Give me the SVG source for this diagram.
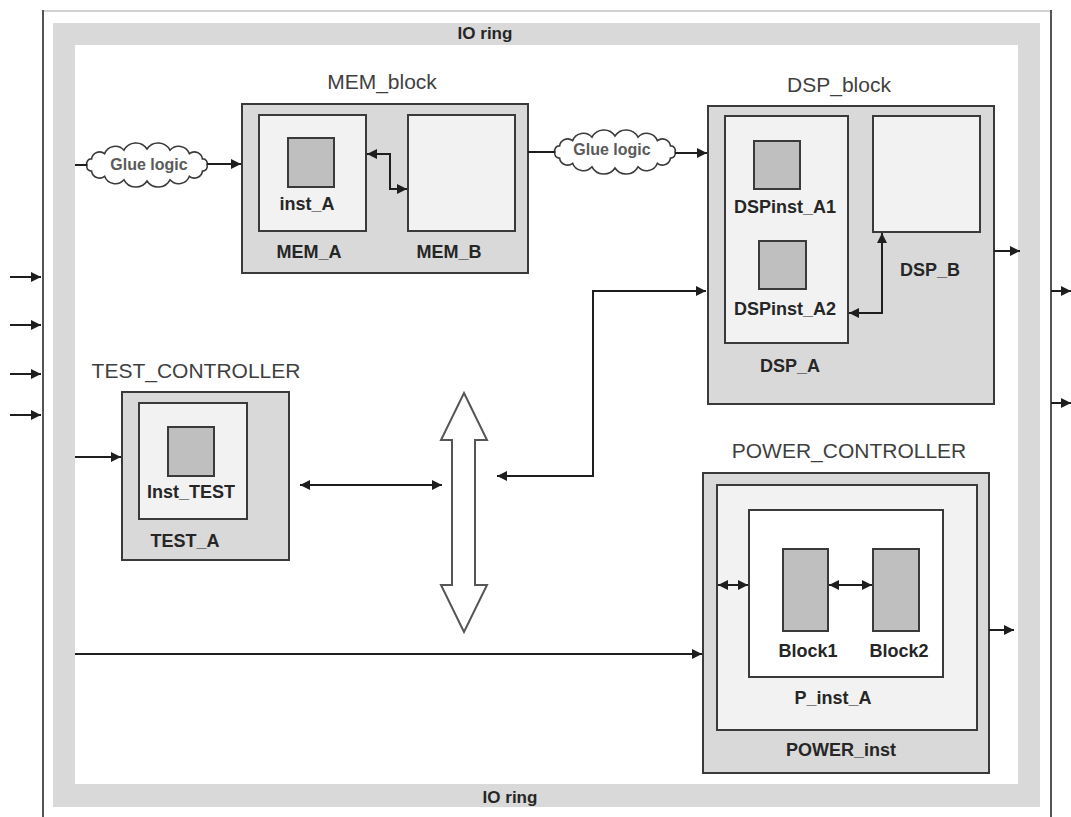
<svg xmlns="http://www.w3.org/2000/svg" xmlns:xlink="http://www.w3.org/1999/xlink" width="1071" height="817" viewBox="0 0 1071 817">
  <style>
    .box { stroke: #3a3a3a; stroke-width: 2; }
    .outer { fill: #d9d9d9; }
    .inner { fill: #f2f2f2; }
    .white { fill: #ffffff; }
    .cell { fill: #bfbfbf; }
    .title { font-family: "Liberation Sans", Arial, sans-serif; font-size: 21px; fill: #3f3f3f; text-anchor: middle; }
    .label { font-family: "Liberation Sans", Arial, sans-serif; font-size: 18px; font-weight: bold; fill: #262626; text-anchor: middle; }
    .ring { font-family: "Liberation Sans", Arial, sans-serif; font-size: 17px; font-weight: bold; fill: #262626; text-anchor: middle; }
    .glue { font-family: "Liberation Sans", Arial, sans-serif; font-size: 16px; font-weight: bold; fill: #5a5a5a; text-anchor: middle; }
    .wire { fill: none; stroke: #1e1e1e; stroke-width: 2; }
    .arr { marker-end: url(#head); }
    .both { marker-start: url(#head); marker-end: url(#head); }
    .cloud { fill: #ffffff; stroke: #3a3a3a; stroke-width: 1.6; }
  </style>
  <defs>
    <marker id="head" viewBox="0 0 10 10" refX="10" refY="5" markerWidth="12" markerHeight="10" markerUnits="userSpaceOnUse" orient="auto-start-reverse">
      <path d="M0,0 L10,5 L0,10 z" fill="#1e1e1e"/>
    </marker>
    <!-- scalloped cloud outline centred on 0,0 -->
    <path id="cloud" class="cloud" d="M-60,0 A4.5,4.5 0 0 1 -55.4,-6.1 A8,8 0 0 1 -42.4,-11.3 A11.5,11.5 0 0 1 -23,-14.8 A13.3,13.3 0 0 1 0,-16 A13.3,13.3 0 0 1 23,-14.8 A11.5,11.5 0 0 1 42.4,-11.3 A8,8 0 0 1 55.4,-6.1 A4.5,4.5 0 0 1 60,0 A4.5,4.5 0 0 1 55.4,6.1 A8,8 0 0 1 42.4,11.3 A11.5,11.5 0 0 1 23,14.8 A13.3,13.3 0 0 1 0,16 A13.3,13.3 0 0 1 -23,14.8 A11.5,11.5 0 0 1 -42.4,11.3 A8,8 0 0 1 -55.4,6.1 A4.5,4.5 0 0 1 -60,0 Z"/>
  </defs>

  <rect x="0" y="0" width="1071" height="817" fill="#ffffff"/>

  <!-- chip outline and IO ring -->
  <g id="chip">
    <line x1="43" y1="11" x2="1051" y2="11" stroke="#d2d2d2" stroke-width="2"/>
    <line x1="43" y1="10" x2="43" y2="817" stroke="#555" stroke-width="2"/>
    <line x1="1051" y1="10" x2="1051" y2="817" stroke="#555" stroke-width="2"/>
  </g>
  <g id="io_ring">
    <path d="M53,23 H1040 V807 H53 Z M75,45 V784 H1018 V45 Z" fill="#d9d9d9" fill-rule="evenodd"/>
    <text class="ring" x="485" y="39">IO ring</text>
    <text class="ring" x="510" y="803">IO ring</text>
  </g>

  <!-- glue logic clouds -->
  <g id="glue_1">
    <use href="#cloud" x="147" y="165"/>
    <text class="glue" x="149" y="170">Glue logic</text>
  </g>
  <g id="glue_2">
    <use href="#cloud" x="615" y="152"/>
    <text class="glue" x="612" y="155">Glue logic</text>
  </g>

  <!-- MEM_block -->
  <g id="mem_block">
    <text class="title" x="382" y="89">MEM_block</text>
    <rect class="box outer" x="242" y="104" width="286" height="169"/>
    <rect class="box inner" x="259" y="115" width="107" height="116"/>
    <rect class="box cell" x="288" y="138" width="46" height="49"/>
    <text class="label" x="307" y="210">inst_A</text>
    <text class="label" x="309" y="258">MEM_A</text>
    <rect class="box inner" x="408" y="115" width="107" height="116"/>
    <text class="label" x="449" y="258">MEM_B</text>
  </g>

  <!-- DSP_block -->
  <g id="dsp_block">
    <text class="title" x="839" y="92">DSP_block</text>
    <rect class="box outer" x="708" y="106" width="286" height="298"/>
    <rect class="box inner" x="725" y="116" width="123" height="227"/>
    <rect class="box cell" x="754" y="141" width="46" height="48"/>
    <text class="label" x="785" y="213">DSPinst_A1</text>
    <rect class="box cell" x="759" y="241" width="47" height="48"/>
    <text class="label" x="785" y="315">DSPinst_A2</text>
    <text class="label" x="790" y="372">DSP_A</text>
    <rect class="box inner" x="873" y="116" width="107" height="116"/>
    <text class="label" x="930" y="276">DSP_B</text>
  </g>

  <!-- TEST_CONTROLLER -->
  <g id="test_controller">
    <text class="title" x="196" y="378">TEST_CONTROLLER</text>
    <rect class="box outer" x="122" y="392" width="167" height="168"/>
    <rect class="box inner" x="139" y="403" width="108" height="116"/>
    <rect class="box cell" x="168" y="427" width="46" height="49"/>
    <text class="label" x="191" y="498">Inst_TEST</text>
    <text class="label" x="185" y="547">TEST_A</text>
  </g>

  <!-- POWER_CONTROLLER -->
  <g id="power_controller">
    <text class="title" x="849" y="458">POWER_CONTROLLER</text>
    <rect class="box outer" x="703" y="473" width="286" height="300"/>
    <rect class="box inner" x="717" y="485" width="260" height="245"/>
    <rect class="box white" x="749" y="510" width="194" height="167"/>
    <rect class="box cell" x="783" y="549" width="45" height="82"/>
    <rect class="box cell" x="873" y="549" width="46" height="82"/>
    <text class="label" x="808" y="657" fill="#3a3a3a">Block1</text>
    <text class="label" x="899" y="657" fill="#3a3a3a">Block2</text>
    <text class="label" x="833" y="704">P_inst_A</text>
    <text class="label" x="841" y="756">POWER_inst</text>
  </g>

  <!-- shared bus -->
  <g id="bus">
    <polygon points="464,393 487,440 475,440 475,585 487,585 464,632 441,585 452,585 452,440 441,440" fill="#ffffff" stroke="#555" stroke-width="2" stroke-linejoin="miter"/>
  </g>

  <!-- connectors -->
  <g id="connectors">
    <line class="wire arr" x1="10" y1="277" x2="41" y2="277"/>
    <line class="wire arr" x1="10" y1="325" x2="41" y2="325"/>
    <line class="wire arr" x1="10" y1="374" x2="41" y2="374"/>
    <line class="wire arr" x1="10" y1="415" x2="41" y2="415"/>

    <line class="wire" x1="75" y1="165" x2="87" y2="165"/>
    <line class="wire arr" x1="207" y1="164" x2="241" y2="164"/>
    <path class="wire both" d="M367,154 H390 V189 H407"/>

    <line class="wire" x1="528" y1="152" x2="555" y2="152"/>
    <line class="wire arr" x1="675" y1="153" x2="707" y2="153"/>
    <path class="wire both" d="M882,233 V313 H849"/>
    <line class="wire arr" x1="994" y1="251" x2="1020" y2="251"/>

    <line class="wire arr" x1="1051" y1="291" x2="1071" y2="291"/>
    <line class="wire arr" x1="1051" y1="403" x2="1071" y2="403"/>

    <line class="wire arr" x1="75" y1="457" x2="121" y2="457"/>
    <line class="wire both" x1="300" y1="485" x2="442" y2="485"/>
    <path class="wire both" d="M497,476 H593 V291 H706"/>

    <line class="wire arr" x1="75" y1="654" x2="702" y2="654"/>
    <line class="wire arr" x1="989" y1="630" x2="1014" y2="630"/>
    <line class="wire both" x1="829" y1="585" x2="872" y2="585"/>
    <line class="wire both" x1="718" y1="585" x2="748" y2="585"/>
  </g>
</svg>
